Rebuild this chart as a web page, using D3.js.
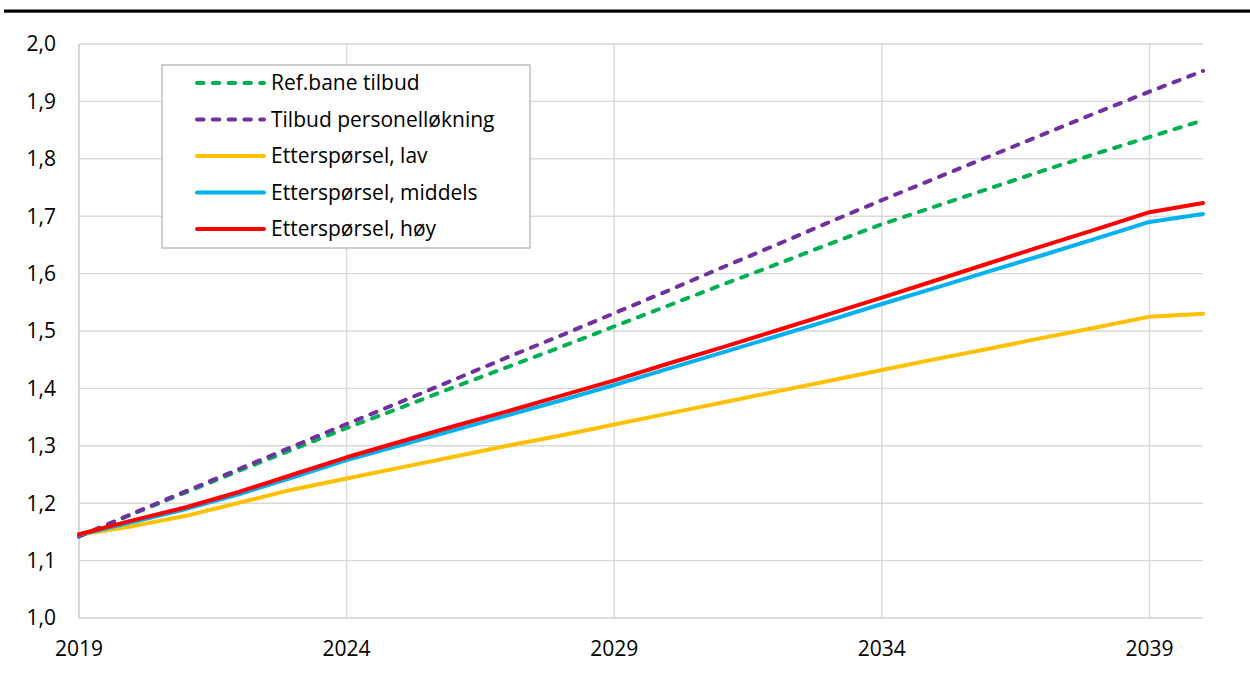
<!DOCTYPE html>
<html>
<head>
<meta charset="utf-8">
<script src="https://cdn.jsdelivr.net/npm/d3@7"></script>
<style>
  html, body { margin: 0; padding: 0; background: #fff; }
  svg { display: block; }
  text { font-family: "Open Sans", "Noto Sans", sans-serif; fill: #000; }
</style>
</head>
<body>
<svg id="chart" width="1250" height="677"></svg>
<script>
const years = d3.range(2019, 2041);
const xTicks = [2019, 2024, 2029, 2034, 2039];
const yTicks = [1.0, 1.1, 1.2, 1.3, 1.4, 1.5, 1.6, 1.7, 1.8, 1.9, 2.0];

const refTilbud = [1.142, 1.181, 1.219, 1.257, 1.294, 1.331, 1.366, 1.402, 1.437, 1.472, 1.508,
                   1.544, 1.580, 1.615, 1.651, 1.686, 1.717, 1.748, 1.779, 1.809, 1.838, 1.867];
const tilbudPersonell = [1.142, 1.182, 1.221, 1.260, 1.299, 1.338, 1.376, 1.415, 1.454, 1.492, 1.531,
                         1.570, 1.610, 1.649, 1.689, 1.728, 1.766, 1.804, 1.842, 1.880, 1.917, 1.953];
const ettersporselLav = [1.145, 1.160, 1.178, 1.201, 1.224, 1.243, 1.262, 1.281, 1.300, 1.318, 1.337,
                         1.356, 1.375, 1.394, 1.413, 1.432, 1.451, 1.469, 1.488, 1.506, 1.525, 1.530];
const ettersporselMiddels = [1.145, 1.167, 1.190, 1.216, 1.245, 1.275, 1.301, 1.327, 1.353, 1.379, 1.406,
                             1.434, 1.462, 1.490, 1.518, 1.547, 1.575, 1.604, 1.632, 1.661, 1.690, 1.704];
const ettersporselHoy = [1.146, 1.170, 1.193, 1.220, 1.250, 1.280, 1.307, 1.334, 1.360, 1.387, 1.414,
                         1.443, 1.471, 1.500, 1.529, 1.558, 1.588, 1.618, 1.648, 1.677, 1.707, 1.723];

const seriesNames = ["Ref.bane tilbud", "Tilbud personelløkning", "Etterspørsel, lav", "Etterspørsel, middels", "Etterspørsel, høy"];
const seriesValues = [refTilbud, tilbudPersonell, ettersporselLav, ettersporselMiddels, ettersporselHoy];
const seriesColors = ["#00b050", "#7030a0", "#ffc000", "#00b0f0", "#ff0000"];
const seriesDashed = [true, true, false, false, false];

const svg = d3.select("#chart");
const plotLeft = 79, plotRight = 1203, plotTop = 44, plotBottom = 618;
const dash = "6.5,9.3";

const x = d3.scaleLinear().domain([2019, 2040]).range([plotLeft, plotRight]);
const y = d3.scaleLinear().domain([1.0, 2.0]).range([plotBottom, plotTop]);
const fmt = d => d.toFixed(1).replace(".", ",");

// top rule
svg.append("rect").attr("x", 4).attr("y", 9.5).attr("width", 1246).attr("height", 3.2).attr("fill", "#000");

// horizontal grid
svg.append("g").selectAll("line").data(yTicks.filter(d => d > 1.0)).join("line")
  .attr("x1", plotLeft).attr("x2", plotRight)
  .attr("y1", d => y(d)).attr("y2", d => y(d))
  .attr("stroke", "#d9d9d9").attr("stroke-width", 1.4);

// vertical grid
svg.append("g").selectAll("line").data(xTicks.filter(d => d > 2019)).join("line")
  .attr("x1", d => x(d)).attr("x2", d => x(d))
  .attr("y1", plotTop).attr("y2", plotBottom)
  .attr("stroke", "#d9d9d9").attr("stroke-width", 1.4);

// axes lines
svg.append("line").attr("x1", plotLeft).attr("x2", plotLeft).attr("y1", plotTop).attr("y2", plotBottom)
  .attr("stroke", "#d0d0d0").attr("stroke-width", 1.6);
svg.append("line").attr("x1", plotLeft).attr("x2", plotRight).attr("y1", plotBottom).attr("y2", plotBottom)
  .attr("stroke", "#d0d0d0").attr("stroke-width", 1.6);

// y tick labels
svg.append("g").selectAll("text").data(yTicks).join("text")
  .attr("x", 56).attr("y", d => y(d)).attr("dy", "0.35em")
  .attr("text-anchor", "end").attr("font-size", 21)
  .text(fmt);

// x tick labels
svg.append("g").selectAll("text").data(xTicks).join("text")
  .attr("x", d => x(d)).attr("y", 656)
  .attr("text-anchor", "middle").attr("font-size", 21)
  .text(d => d);

// lines
const line = d3.line().x((d, i) => x(years[i])).y(d => y(d));
const order = [2, 0, 1, 3, 4];
order.forEach(k => {
  svg.append("path").datum(seriesValues[k])
    .attr("d", line)
    .attr("fill", "none")
    .attr("stroke", seriesColors[k])
    .attr("stroke-width", 4)
    .attr("stroke-linejoin", "round")
    .attr("stroke-linecap", "round")
    .attr("stroke-dasharray", seriesDashed[k] ? dash : null);
});

// legend
const lg = svg.append("g");
lg.append("rect").attr("x", 162).attr("y", 65).attr("width", 368).attr("height", 183)
  .attr("fill", "#fff").attr("stroke", "#bfbfbf").attr("stroke-width", 1.5);
const legendY = [83, 119.5, 156, 192.5, 229];
seriesNames.forEach((name, k) => {
  lg.append("line").attr("x1", 197).attr("x2", 264)
    .attr("y1", legendY[k]).attr("y2", legendY[k])
    .attr("stroke", seriesColors[k]).attr("stroke-width", 4)
    .attr("stroke-linecap", "round")
    .attr("stroke-dasharray", seriesDashed[k] ? dash : null);
  lg.append("text").attr("x", 271).attr("y", legendY[k]).attr("dy", "0.35em")
    .attr("font-size", 21).text(name);
});
</script>
</body>
</html>
